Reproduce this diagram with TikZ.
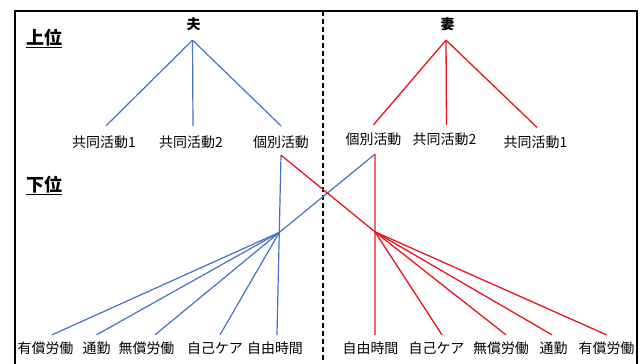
\documentclass[tikz,border=0pt]{standalone}
\usepackage{fontspec}
\setmainfont{Noto Sans CJK JP}
\usetikzlibrary{calc}
\definecolor{hblue}{RGB}{68,114,196}
\definecolor{wred}{RGB}{235,20,30}
\begin{document}
\begin{tikzpicture}[x=1bp,y=-1bp,
  lbl/.style={font=\fontsize{14}{16}\selectfont, inner sep=0pt, text height=19pt, text depth=9pt},
  head/.style={font=\bfseries\fontsize{14}{16}\selectfont, inner sep=0pt, text height=20pt, text depth=10pt},
  level/.style={font=\bfseries\fontsize{18}{20}\selectfont, inner sep=0pt, anchor=base},
  bl/.style={draw=hblue, line width=1.2bp},
  rl/.style={draw=wred, line width=1.3bp},
  divider/.style={draw=black, line width=1.3bp, dash pattern=on 5bp off 3bp}]
\useasboundingbox (0,0) rectangle (641,363);
\begin{scope}
  \clip (0,0) rectangle (641,363);
  \draw[line width=2bp] (14.5,11) rectangle (637,390);
\end{scope}
\coordinate (dtop) at (323,11);
\coordinate (dbot) at (323,363);
\draw[divider] (dtop) -- (dbot);

% level labels
\node[level] (up) at (44,44) {\underline{上位}};
\node[level] (down) at (44,191) {\underline{下位}};

% heads
\node[head] (hus) at (193.5,25) {夫};
\node[head] (wif) at (447.5,25) {妻};

% upper labels
\node[lbl] (hj1) at (104,143) {共同活動1};
\node[lbl] (hj2) at (191,143) {共同活動2};
\node[lbl] (hind) at (281,143) {個別活動};
\node[lbl] (wind) at (373.5,140) {個別活動};
\node[lbl] (wj2) at (444.5,140) {共同活動2};
\node[lbl] (wj1) at (535.5,143) {共同活動1};

% lower labels
\node[lbl] (lpaid) at (45.5,349) {有償労働};
\node[lbl] (lcomm) at (96.5,349) {通勤};
\node[lbl] (lunp) at (146.5,349) {無償労働};
\node[lbl] (lself) at (215,349) {自己ケア};
\node[lbl] (lfree) at (275,349) {自由時間};
\node[lbl] (rfree) at (370.5,349) {自由時間};
\node[lbl] (rself) at (436.5,349) {自己ケア};
\node[lbl] (runp) at (501,349) {無償労働};
\node[lbl] (rcomm) at (553.5,349) {通勤};
\node[lbl] (rpaid) at (606.5,349) {有償労働};

% upper trees
\draw[bl] ([xshift=-1pt]hus.south) -- ([xshift=2pt,yshift=3pt]hj1.north);
\draw[bl] ([xshift=-1pt]hus.south) -- ([xshift=2pt,yshift=3pt]hj2.north);
\draw[bl] ([xshift=-1pt]hus.south) -- ([yshift=3pt]hind.north);
\draw[rl] ([xshift=-1.5pt]wif.south) -- ([yshift=1pt]wind.north);
\draw[rl] ([xshift=-1.5pt]wif.south) -- ([xshift=2pt,yshift=1pt]wj2.north);
\draw[rl] ([xshift=-1.5pt]wif.south) -- ([xshift=1.5pt,yshift=1.5pt]wj1.north);

% lower trees
\coordinate (hs) at ([yshift=2pt]hind.south);
\coordinate (ws) at ([xshift=1.5pt]wind.south);
\coordinate (lfn) at ([xshift=2pt]lfree.north);
\coordinate (rfn) at ([xshift=4.5pt]rfree.north);
\coordinate (bf) at ($(hs)!0.43!(lfn)$);
\coordinate (rf) at ($(ws)!0.43!(rfn)$);

\draw[bl] (hs) -- (lfn);
\draw[bl] (ws) -- (bf);
\draw[bl] (bf) -- ([xshift=6.5pt]lpaid.north);
\draw[bl] (bf) -- (lcomm.north);
\draw[bl] (bf) -- ([xshift=8.5pt]lunp.north);
\draw[bl] (bf) -- ([xshift=5pt]lself.north);

\draw[rl] (ws) -- (rfn);
\draw[rl] (hs) -- (rf);
\draw[rl] (rf) -- ([xshift=5.5pt]rself.north);
\draw[rl] (rf) -- ([xshift=5pt]runp.north);
\draw[rl] (rf) -- ([xshift=-1.5pt]rcomm.north);
\draw[rl] (rf) -- (rpaid.north);
\end{tikzpicture}
\end{document}
